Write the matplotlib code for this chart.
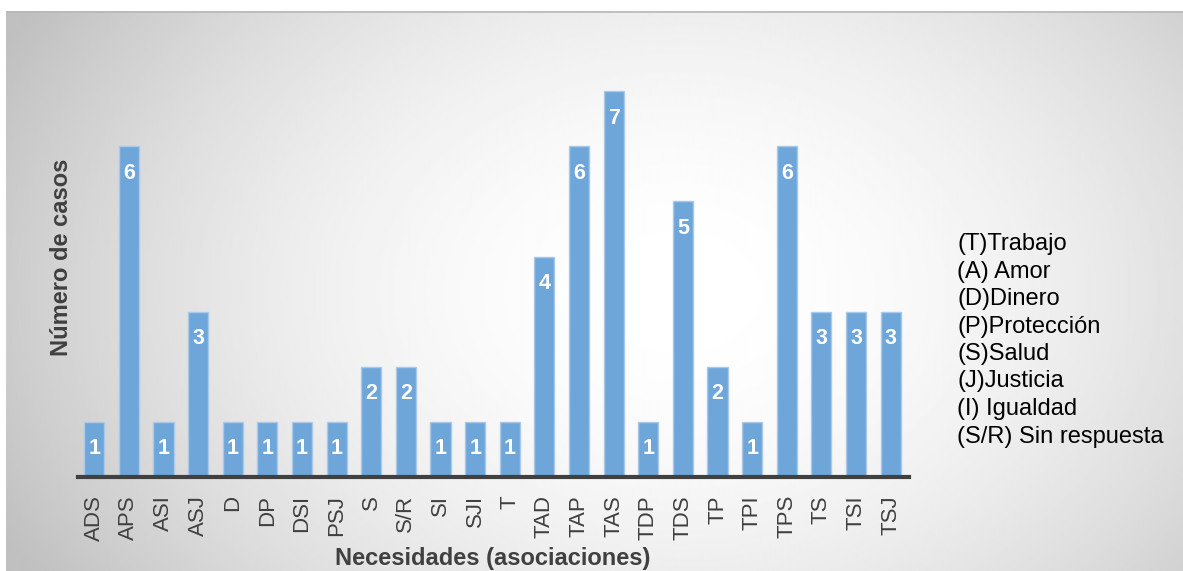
import numpy as np
import matplotlib
matplotlib.use("Agg")
import matplotlib.pyplot as plt

plt.rcParams['font.family'] = ['Liberation Sans', 'DejaVu Sans']

categories = ["ADS", "APS", "ASI", "ASJ", "D", "DP", "DSI", "PSJ", "S", "S/R",
              "SI", "SJI", "T", "TAD", "TAP", "TAS", "TDP", "TDS", "TP", "TPI",
              "TPS", "TS", "TSI", "TSJ"]
casos = [1, 6, 1, 3, 1, 1, 1, 1, 2, 2, 1, 1, 1, 4, 6, 7, 1, 5, 2, 1, 6, 3, 3, 3]
leyenda = ["(T)Trabajo", "(A) Amor", "(D)Dinero", "(P)Protección", "(S)Salud",
           "(J)Justicia", "(I) Igualdad", "(S/R) Sin respuesta"]

W, H = 1183, 571
fig = plt.figure(figsize=(W / 100, H / 100), dpi=100)

# Background panel with a soft radial gradient
bg = fig.add_axes([6 / W, 0, 1 - 6 / W, (H - 11) / H])
bg.set_axis_off()
ny, nx = 280, 590
yy, xx = np.mgrid[0:ny, 0:nx]
cx, cy = 0.57 * nx, 0.50 * ny
r = np.sqrt(((xx - cx) / (0.68 * nx)) ** 2 + ((yy - cy) / (1.05 * ny)) ** 2)
val = np.clip(1.0 - 0.28 * r ** 1.9, 0.75, 1.0)
bg.imshow(val, cmap="gray", vmin=0, vmax=1, aspect="auto",
          extent=[0, 1, 0, 1], interpolation="bilinear")
bg.plot([0, 1], [0.999, 0.999], color="#b8b8b8", lw=1.2, transform=bg.transAxes)
bg.set_xlim(0, 1)
bg.set_ylim(0, 1)

# Bar chart
ax = fig.add_axes([78 / W, (H - 477) / H, (909 - 78) / W, (477 - 36) / H])
ax.patch.set_alpha(0)
x = np.arange(len(categories))
ax.bar(x, casos, width=0.58, color="#6fa6d9", edgecolor="#a9c9ea", linewidth=1.0, zorder=2)
ax.set_xlim(-0.47, len(categories) - 0.47)
ax.set_ylim(0, 8)

for xi, v in zip(x, casos):
    ax.annotate(str(v), (xi, v), xytext=(0, -27), textcoords="offset pixels",
                ha="center", va="center", color="white", fontsize=15.5, fontweight="bold", zorder=3)

for s in ["top", "right", "left"]:
    ax.spines[s].set_visible(False)
ax.spines["bottom"].set_color("#404040")
ax.spines["bottom"].set_linewidth(3)
ax.set_yticks([])
ax.set_xticks(x)
ax.set_xticklabels(categories, rotation=90, fontsize=16, color="#404040")
ax.tick_params(axis="x", length=0, pad=13)

fig.text(493 / W, 1 - 559 / H, "Necesidades (asociaciones)", ha="center", va="center",
         fontsize=17, fontweight="bold", color="#404040")
fig.text(62 / W, 1 - 257 / H, "Número de casos", ha="center", va="center", rotation=90,
         fontsize=17, fontweight="bold", color="#404040")

for i, t in enumerate(leyenda):
    fig.text(957 / W, 1 - (244 + 27.5 * i) / H, t, ha="left", va="center",
             fontsize=17, color="black")

fig.savefig("out.png", dpi=100)
